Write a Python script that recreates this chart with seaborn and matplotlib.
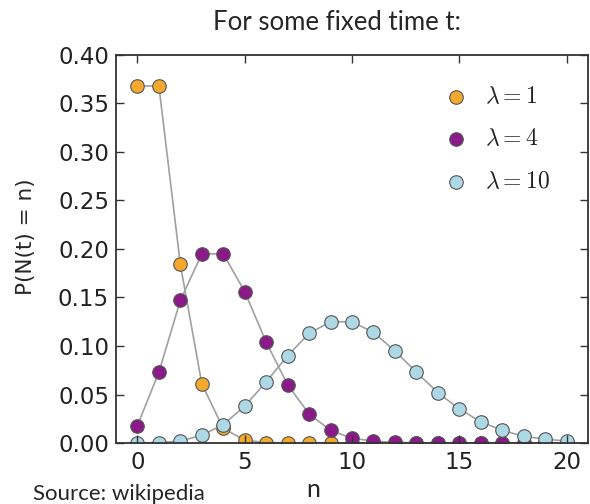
import pandas as pd
import matplotlib
matplotlib.use('Agg')
import matplotlib.pyplot as plt
import seaborn as sns

# values
n = list(range(21))
p_lam1 = [0.368, 0.368, 0.184, 0.061, 0.015, 0.003, 0.0005, 0.0001, 0.0, 0.0,
          0.0, 0.0, 0.0, 0.0, 0.0, 0.0, 0.0, 0.0, 0.0, 0.0, 0.0]
p_lam4 = [0.018, 0.073, 0.147, 0.195, 0.195, 0.156, 0.104, 0.060, 0.030, 0.013,
          0.005, 0.002, 0.0006, 0.0002, 0.0001, 0.0, 0.0, 0.0, 0.0, 0.0, 0.0]
p_lam10 = [0.0, 0.0005, 0.002, 0.008, 0.019, 0.038, 0.063, 0.090, 0.113, 0.125,
           0.125, 0.114, 0.095, 0.073, 0.052, 0.035, 0.022, 0.013, 0.007, 0.004, 0.002]
labels = [r'$\lambda=1$', r'$\lambda=4$', r'$\lambda=10$']
colors = ['#f5a82e', '#8b1a89', '#add8e6']
yticks = [0.00, 0.05, 0.10, 0.15, 0.20, 0.25, 0.30, 0.35, 0.40]
xticks = [0, 5, 10, 15, 20]

sns.set_style('ticks')
plt.rcParams['font.family'] = ['DejaVu Sans']
plt.rcParams['mathtext.fontset'] = 'cm'

fig = plt.figure(figsize=(5.9, 5.04), dpi=100)
ax = fig.add_axes([0.1966, 0.121, 0.80, 0.770])

series = [p_lam1, p_lam4, p_lam10]
for i, (vals, lab, col) in enumerate(zip(series, labels, colors)):
    df = pd.DataFrame({'n': n, 'p': vals})
    sns.lineplot(data=df, x='n', y='p', color='#a0a0a0', linewidth=1.2,
                 ax=ax, zorder=1.0 + 0.2 * i, legend=False)
    sns.scatterplot(data=df, x='n', y='p', color=col, s=95, edgecolor='#555555',
                    linewidth=0.8, ax=ax, zorder=1.1 + 0.2 * i, label=lab)

ax.set_xlim(-1, 21)
ax.set_ylim(0, 0.40)
ax.set_xticks(xticks)
ax.set_yticks(yticks)
ax.set_yticklabels(['%.2f' % v for v in yticks])
ax.set_xlabel('')
ax.set_ylabel('')
ax.set_axisbelow(False)
ax.tick_params(direction='in', length=6, width=1, colors='#333333',
               labelcolor='#222222', labelsize=16.5, top=True, right=True)
ax.tick_params(axis='x', pad=6)
ax.tick_params(axis='y', pad=5)
for sp in ax.spines.values():
    sp.set_visible(True)
    sp.set_color('#333333')
    sp.set_linewidth(1.3)

leg = ax.legend(loc='upper left', bbox_to_anchor=(0.67, 0.925), frameon=False,
                fontsize=17, handletextpad=0.25, labelspacing=0.78,
                markerscale=1.0, borderaxespad=0.0, borderpad=0.0)
for t in leg.get_texts():
    t.set_color('#222222')

fig.text(0.571, 0.956, 'For some fixed time t:', ha='center', va='center',
         fontsize=18.5, family=['Lato', 'DejaVu Sans'])
fig.text(0.044, 0.53, 'P(N(t) = n)', rotation=90, ha='center', va='center',
         fontsize=15.5)
fig.text(0.531, 0.028, 'n', ha='center', va='center', fontsize=18,
         family=['Lato', 'DejaVu Sans'])
fig.text(0.056, 0.0, 'Source: wikipedia', ha='left', va='bottom', fontsize=16,
         family=['Lato', 'DejaVu Sans'])

fig.savefig('out.png', dpi=100)
